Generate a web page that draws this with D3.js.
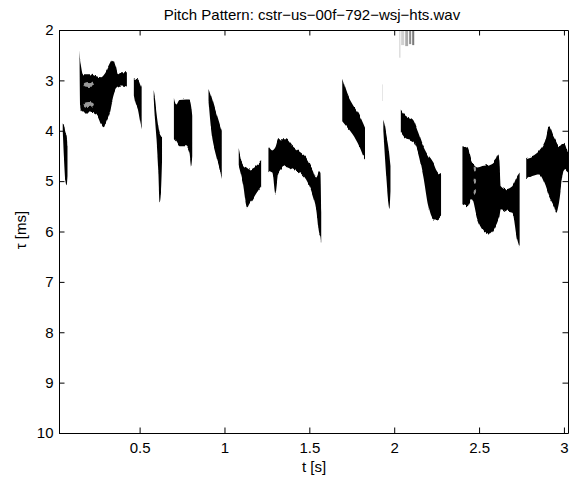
<!DOCTYPE html>
<html>
<head>
<meta charset="utf-8">
<script src="https://cdn.jsdelivr.net/npm/d3@7"></script>
<style>
  body { margin: 0; background: #fff; }
  text { font-family: "Liberation Sans", Arial, sans-serif; }
</style>
</head>
<body>
<svg id="chart" width="574" height="478"></svg>
<script>
const xTicks = [0.5, 1, 1.5, 2, 2.5, 3];
const yTicks = [2, 3, 4, 5, 6, 7, 8, 9, 10];

// voiced segments, each point: [t (s), tau top (ms), tau bottom (ms)]
const seg01 = [[0.047, 3.83, 4.0], [0.055, 3.9, 4.6], [0.063, 4.05, 5.0], [0.070, 4.1, 5.08], [0.075, 4.3, 4.9]];
const seg02 = [[0.146, 2.40, 2.55], [0.150, 2.62, 3.50], [0.153, 2.68, 3.61], [0.166, 2.88, 3.64], [0.206, 2.88, 3.64],
  [0.245, 2.92, 3.68], [0.275, 2.94, 3.88], [0.288, 2.90, 3.93], [0.304, 2.82, 3.81], [0.324, 2.68, 3.64],
  [0.343, 2.59, 3.34], [0.359, 2.72, 3.18], [0.373, 2.88, 3.14], [0.392, 2.84, 3.12], [0.425, 2.84, 3.14]];
const seg03 = [[0.466, 2.96, 3.30], [0.475, 2.97, 3.45], [0.490, 2.98, 3.58], [0.502, 3.05, 3.80], [0.512, 3.15, 3.97]];
const seg04 = [[0.583, 3.21, 3.35], [0.592, 3.40, 3.85], [0.600, 3.65, 4.20], [0.610, 3.90, 4.80], [0.618, 4.05, 5.42],
  [0.626, 4.10, 5.20], [0.632, 4.10, 4.60]];
const seg05 = [[0.702, 3.35, 4.17], [0.716, 3.48, 4.22], [0.735, 3.39, 4.31], [0.775, 3.38, 4.31], [0.794, 3.38, 4.44],
  [0.804, 3.51, 4.70], [0.810, 3.70, 4.50]];
const seg06 = [[0.906, 3.15, 3.40], [0.922, 3.31, 4.00], [0.951, 3.64, 4.50], [0.975, 3.90, 4.80], [0.984, 4.00, 4.96]];
const seg07 = [[1.084, 4.34, 4.70], [1.108, 4.67, 5.03], [1.134, 4.74, 5.52], [1.147, 4.77, 5.45], [1.167, 4.75, 5.36],
  [1.186, 4.70, 5.25], [1.216, 4.60, 5.10]];
const seg08 = [[1.259, 4.31, 4.80], [1.282, 4.39, 4.83], [1.300, 4.33, 5.27], [1.318, 4.17, 4.83], [1.363, 4.17, 4.70],
  [1.402, 4.31, 4.77], [1.441, 4.41, 4.83], [1.481, 4.53, 4.97], [1.519, 4.77, 5.27], [1.541, 4.93, 5.56],
  [1.559, 4.81, 6.06], [1.565, 4.81, 6.10], [1.570, 5.60, 6.26]];
const seg09 = [[1.694, 2.95, 3.81], [1.725, 3.28, 3.94], [1.755, 3.48, 4.07], [1.794, 3.68, 4.31], [1.828, 3.94, 4.60]];
const seg10 = [[1.936, 3.78, 4.00], [1.945, 3.90, 4.50], [1.955, 4.10, 5.00], [1.965, 4.30, 5.40], [1.972, 4.50, 5.53],
  [1.978, 4.70, 5.20]];
const seg11 = [[2.039, 3.58, 4.03], [2.061, 3.68, 4.13], [2.111, 3.78, 4.21], [2.141, 4.03, 4.43], [2.171, 4.31, 4.90],
  [2.201, 4.50, 5.50], [2.231, 4.65, 5.76], [2.251, 4.80, 5.76], [2.276, 4.87, 5.70]];
const seg12 = [[2.402, 4.31, 5.46], [2.431, 4.34, 5.50], [2.457, 4.60, 5.36], [2.490, 4.73, 5.76], [2.519, 4.70, 5.96],
  [2.559, 4.67, 6.06], [2.598, 4.57, 5.89], [2.614, 4.47, 5.76], [2.620, 4.60, 5.70], [2.628, 5.10, 5.56],
  [2.657, 5.16, 5.60], [2.696, 5.10, 5.63], [2.725, 4.90, 6.16], [2.739, 4.83, 6.32]];
const seg13 = [[2.778, 4.54, 4.97], [2.814, 4.50, 4.90], [2.853, 4.40, 4.87], [2.892, 4.17, 5.10], [2.912, 3.91, 5.30],
  [2.941, 4.11, 5.50], [2.955, 4.20, 5.63], [2.971, 4.31, 5.43], [3.000, 4.24, 4.77], [3.024, 4.44, 4.83]];
const segments = [seg01, seg02, seg03, seg04, seg05, seg06, seg07, seg08, seg09, seg10, seg11, seg12, seg13];

// faint grey stripes: [t start, t end, tau top, tau bottom, grey]
const greyStripes = [[1.929, 1.934, 3.08, 3.41, '#e2e2e2'], [2.031, 2.036, 2.02, 2.55, '#c4c4c4'],
  [2.041, 2.059, 2.02, 2.30, '#d0d0d0'], [2.065, 2.082, 2.02, 2.32, '#aaaaaa'],
  [2.088, 2.100, 2.02, 2.28, '#8c8c8c'], [2.106, 2.118, 2.02, 2.30, '#7a7a7a']];

// lighter gaps inside blobs: [t, tau, half width (s), half height (ms)]
const holes = [[0.200, 3.08, 0.030, 0.05], [0.200, 3.48, 0.030, 0.05],
  [2.475, 4.76, 0.007, 0.05], [2.475, 5.00, 0.007, 0.05], [2.475, 5.20, 0.007, 0.05]];

const svg = d3.select('#chart');
const x = d3.scaleLinear().domain([0.025, 3.024]).range([59, 568]);
const y = d3.scaleLinear().domain([2, 10]).range([30, 433]);

const defs = svg.append('defs');
defs.append('clipPath').attr('id', 'plot')
  .append('rect').attr('x', 59.5).attr('y', 30.5).attr('width', 509).attr('height', 403);

// ragged top/bottom edges (vertical displacement only), slightly soft
const rough = defs.append('filter').attr('id', 'rough')
  .attr('x', '-5%').attr('y', '-5%').attr('width', '110%').attr('height', '110%');
rough.append('feTurbulence').attr('type', 'fractalNoise')
  .attr('baseFrequency', '0.4 0.04').attr('numOctaves', 2).attr('seed', 3).attr('result', 'noise');
const fix = rough.append('feComponentTransfer').attr('in', 'noise').attr('result', 'map');
fix.append('feFuncR').attr('type', 'linear').attr('slope', 0).attr('intercept', 0.5);
fix.append('feFuncA').attr('type', 'linear').attr('slope', 0).attr('intercept', 1);
rough.append('feDisplacementMap').attr('in', 'SourceGraphic').attr('in2', 'map')
  .attr('scale', 5).attr('xChannelSelector', 'R').attr('yChannelSelector', 'G').attr('result', 'moved');
rough.append('feGaussianBlur').attr('in', 'moved').attr('stdDeviation', 0.35);

const plot = svg.append('g').attr('clip-path', 'url(#plot)');

plot.selectAll('rect.grey')
  .data(greyStripes)
  .enter()
  .append('rect')
  .attr('class', 'grey')
  .attr('x', d => x(d[0]))
  .attr('width', d => x(d[1]) - x(d[0]))
  .attr('y', d => y(d[2]))
  .attr('height', d => y(d[3]) - y(d[2]))
  .attr('fill', d => d[4]);

const band = d3.area()
  .curve(d3.curveMonotoneX)
  .x(d => x(d[0]))
  .y0(d => y(d[1]))
  .y1(d => y(d[2]));

const blobs = plot.append('g').attr('filter', 'url(#rough)');

blobs.selectAll('path')
  .data(segments)
  .enter()
  .append('path')
  .attr('d', band)
  .attr('fill', '#000');

blobs.selectAll('ellipse')
  .data(holes)
  .enter()
  .append('ellipse')
  .attr('cx', d => x(d[0]))
  .attr('cy', d => y(d[1]))
  .attr('rx', d => x(d[0] + d[2]) - x(d[0]))
  .attr('ry', d => y(d[1] + d[3]) - y(d[1]))
  .attr('fill', '#fff')
  .attr('fill-opacity', 0.6);

// axes, ticks inside on all four sides
const axes = [
  { gen: d3.axisBottom(x).tickValues(xTicks).tickFormat(d3.format('')), at: 'translate(0,433)', pad: 9 },
  { gen: d3.axisTop(x).tickValues(xTicks).tickFormat(''), at: 'translate(0,30)', pad: 3 },
  { gen: d3.axisLeft(y).tickValues(yTicks).tickFormat(d3.format('d')), at: 'translate(59,0)', pad: 5.5 },
  { gen: d3.axisRight(y).tickValues(yTicks).tickFormat(''), at: 'translate(568,0)', pad: 3 }
];
axes.forEach(a => {
  const g = svg.append('g')
    .attr('transform', a.at)
    .call(a.gen.tickSizeInner(-5.5).tickSizeOuter(0).tickPadding(a.pad));
  g.selectAll('path, line').attr('stroke', '#000').attr('stroke-width', 1);
  g.selectAll('text').attr('fill', '#000').style('font-size', '15px');
  g.attr('font-family', null);
});

svg.append('text')
  .attr('x', 312)
  .attr('y', 19.5)
  .attr('text-anchor', 'middle')
  .style('font-size', '15px')
  .text('Pitch Pattern: cstr\u2212us\u221200f\u2212792\u2212wsj\u2212hts.wav');

svg.append('text')
  .attr('x', 314)
  .attr('y', 472)
  .attr('text-anchor', 'middle')
  .style('font-size', '15px')
  .text('t [s]');

svg.append('text')
  .attr('transform', 'translate(25.5,230) rotate(-90)')
  .attr('text-anchor', 'middle')
  .style('font-size', '15px')
  .text('\u03c4 [ms]');
</script>
</body>
</html>
